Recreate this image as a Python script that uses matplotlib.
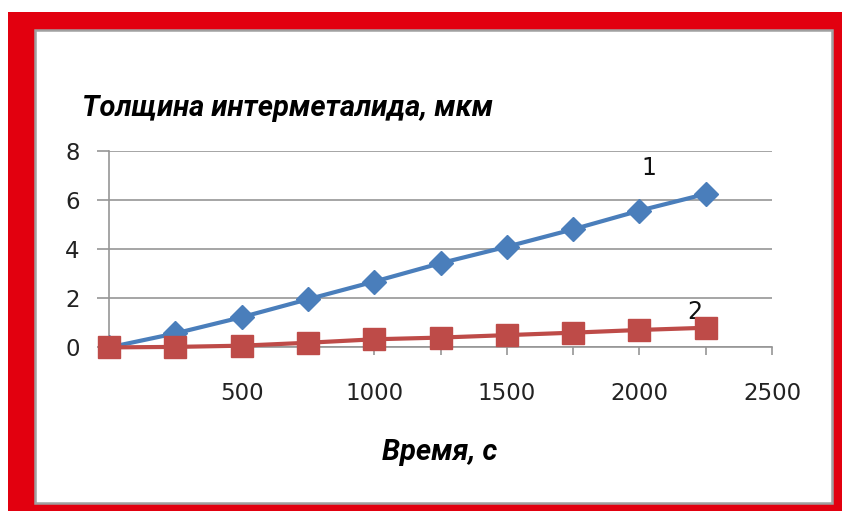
import numpy as np
import matplotlib
matplotlib.use("Agg")
import matplotlib.pyplot as plt
from matplotlib.patches import Rectangle

# Время, с
t = [0, 250, 500, 750, 1000, 1250, 1500, 1750, 2000, 2250]
# Толщина интерметалида, мкм
h1 = [0.0, 0.57, 1.23, 1.96, 2.68, 3.43, 4.10, 4.81, 5.57, 6.25]
h2 = [0.0, 0.02, 0.07, 0.19, 0.33, 0.40, 0.50, 0.60, 0.71, 0.80]

xticks = [0, 250, 500, 750, 1000, 1250, 1500, 1750, 2000, 2250, 2500]
xticklabels = ["", "", "500", "", "1000", "", "1500", "", "2000", "", "2500"]
yticks = [0, 2, 4, 6, 8]

W, H = 842, 511
fig = plt.figure(figsize=(W / 100, H / 100), dpi=100)

def px(x0, y0, x1, y1):
    # pixel box (top-left origin) -> figure fraction rectangle
    return (x0 / W, 1 - y1 / H), (x1 - x0) / W, (y1 - y0) / H

# red frame and inner white panel
xy, w, h = px(8, 12, W + 2, H + 2)
fig.patches.append(Rectangle(xy, w, h, transform=fig.transFigure,
                             facecolor="#E2000F", edgecolor="none", zorder=0))
xy, w, h = px(35, 30, 832, 503)
fig.patches.append(Rectangle(xy, w, h, transform=fig.transFigure,
                             facecolor="white", edgecolor="#A0A0A0", lw=1.8, zorder=1))

ax = fig.add_axes([109 / W, 1 - 347.4 / H, (772 - 109) / W, (347.4 - 151) / H])
ax.set_facecolor("none")
ax.set_zorder(2)

ax.plot(t, h1, color="#4A7EBB", lw=3, marker="D", ms=12, mec="#4A7EBB", zorder=3)
ax.plot(t, h2, color="#BE4B48", lw=3, marker="s", ms=16, mec="#BE4B48", zorder=4,
        clip_on=False)

ax.set_xlim(0, 2500)
ax.set_ylim(0, 8)
ax.set_xticks(xticks, xticklabels)
ax.set_yticks(yticks)
ax.grid(axis="y", color="#969696", lw=1.2)
ax.set_axisbelow(True)
for s in ["top", "right"]:
    ax.spines[s].set_visible(False)
for s in ["left", "bottom"]:
    ax.spines[s].set_color("#969696")
    ax.spines[s].set_linewidth(1.2)
ax.tick_params(axis="both", colors="#969696", width=1.2, labelcolor="#222222",
               labelsize=16.5)
ax.tick_params(axis="y", length=9, pad=12)
ax.tick_params(axis="x", length=6, pad=19)
for lab in ax.get_xticklabels() + ax.get_yticklabels():
    lab.set_family("DejaVu Sans")

ax.text(2036, 7.31, "1", fontsize=17, ha="center", va="center", color="#111111")
ax.text(2210, 1.44, "2", fontsize=17, ha="center", va="center", color="#111111")

fig.text(82 / W, 1 - 108 / H, "Толщина интерметалида, мкм", family="Roboto",
         weight="bold", style="italic", fontsize=21, ha="left", va="center")
fig.text(440 / W, 1 - 452 / H, "Время, с", family="Roboto",
         weight="bold", style="italic", fontsize=21, ha="center", va="center")

fig.savefig("out.png", dpi=100)
